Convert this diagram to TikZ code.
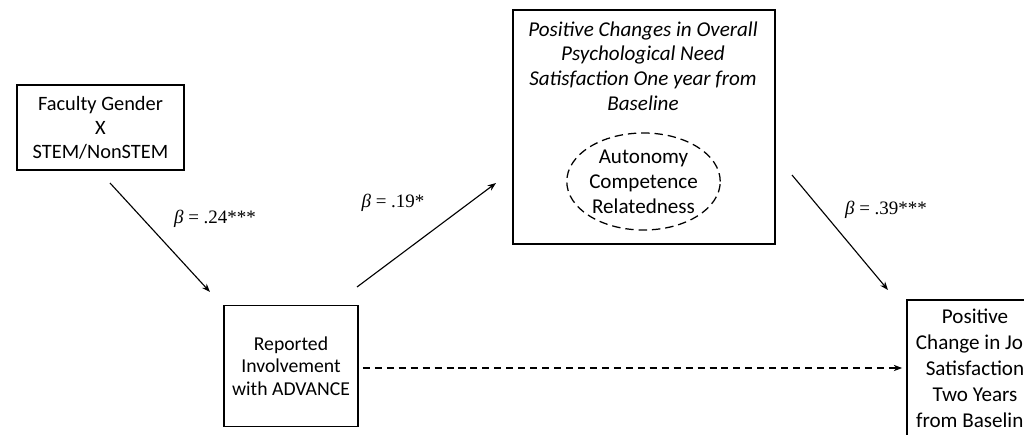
\documentclass[tikz,border=0pt]{standalone}
\usepackage{fontspec}
\setmainfont{Carlito}
\newfontfamily\timesfont{Liberation Serif}
\usetikzlibrary{arrows.meta, shapes.geometric, positioning}

\begin{document}
\begin{tikzpicture}[
    x=0.025cm, y=-0.025cm,
    every node/.style={font=\fontsize{14.5}{17}\selectfont},
    box/.style={draw, line width=0.9pt, align=center, inner sep=0pt},
    coef/.style={font=\timesfont\fontsize{13.5}{15}\selectfont},
    arr/.style={-{Stealth[length=6pt, width=4.5pt]}, line width=0.8pt},
]
    \useasboundingbox (0,0) rectangle (1024,434);
    \clip (0,0) rectangle (1024,434);

    % Predictor, top left.
    \node[box, minimum width=4.175cm, minimum height=2.125cm] (gender) at (100.5,127.5)
        {Faculty Gender\\X\\STEM/NonSTEM};

    % Mediator 1, bottom left.
    \node[box, minimum width=3.35cm, minimum height=3.025cm,
          font=\fontsize{14}{16}\selectfont] (advance) at (291,366)
        {Reported\\Involvement\\with ADVANCE};

    % Mediator 2, the big box at the top with its dashed set.
    \node[box, minimum width=6.55cm, minimum height=5.85cm] (needs) at (644,127) {};
    \node[align=center, font=\itshape\fontsize{15}{17.5}\selectfont] (needstitle) at (643,66)
        {Positive Changes in Overall\\Psychological Need\\Satisfaction One year from\\Baseline};
    \node[ellipse, draw, dashed, dash pattern=on 6pt off 3.5pt, line width=0.9pt,
          minimum width=3.3cm, minimum height=2.425cm, inner sep=0pt, align=center,
          font=\fontsize{15}{17.8}\selectfont] (needset) at (643.5,181.5)
        {Autonomy\\Competence\\Relatedness};

    % Outcome, bottom right (runs off the page).
    \node[box, minimum width=3.4cm, minimum height=3.4cm,
          font=\fontsize{15}{18.5}\selectfont] (job) at (975,368)
        {Positive\\Change in Job\\Satisfaction\\Two Years\\from Baseline};

    % Ends of the paths that stop short of the boxes.
    \coordinate (p1s) at (110,183);
    \coordinate (p1e) at (210,292);
    \coordinate (p2s) at (357,287);
    \coordinate (p2e) at (496,183);
    \coordinate (p3s) at (792,175);
    \coordinate (p3e) at (888,290);

    \draw[arr] (p1s) -- (p1e);
    \draw[arr] (p2s) -- (p2e);
    \draw[arr] (p3s) -- (p3e);
    \draw[arr, dashed, dash pattern=on 5pt off 3.5pt, shorten <=3pt, shorten >=3pt]
        (advance.east |- job.west) -- (job.west);

    % Path coefficients.
    \node[coef] (b1) at (215,219) {{\itshape β} = .24***};
    \node[coef] (b2) at (393,203) {{\itshape β} = .19*};
    \node[coef] (b3) at (886,210) {{\itshape β} = .39***};
\end{tikzpicture}
\end{document}
